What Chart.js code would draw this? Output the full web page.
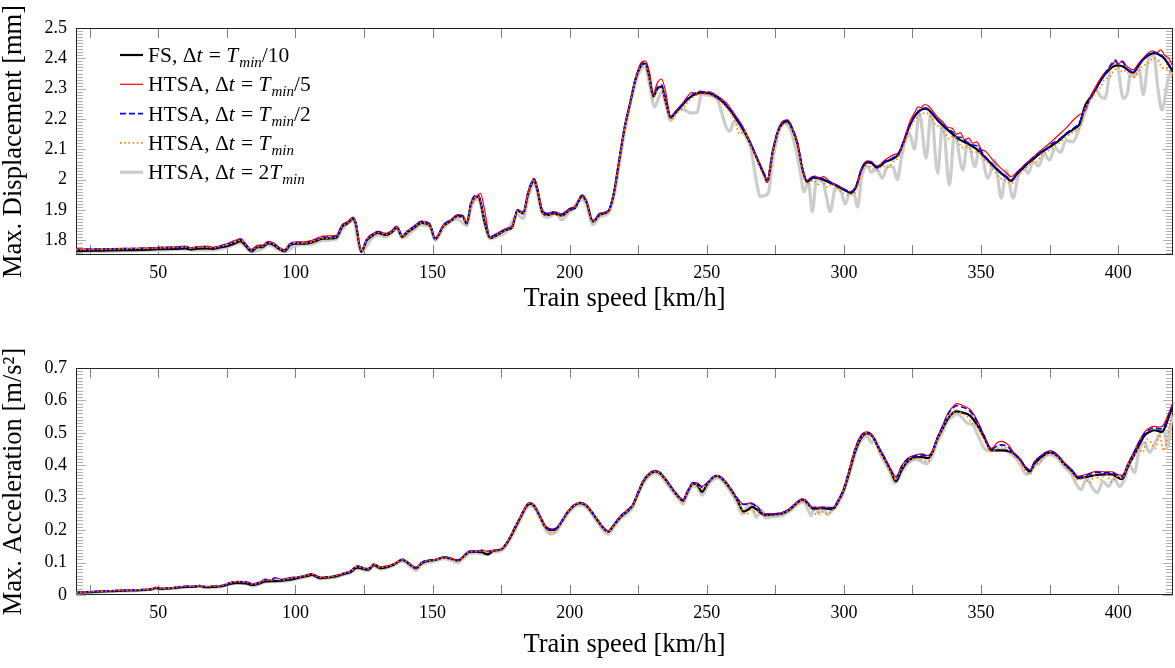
<!DOCTYPE html>
<html>
<head>
<meta charset="utf-8">
<script src="https://cdn.jsdelivr.net/npm/chart.js@4.4.0/dist/chart.umd.min.js"></script>
<style>
  body { margin: 0; background: #fff; }
  .panel { position: absolute; left: 0; width: 1175px; height: 334px; }
</style>
</head>
<body>
<div class="panel" style="top:0"><canvas id="dispChart" width="1175" height="334"></canvas></div>
<div class="panel" style="top:334px"><canvas id="accChart" width="1175" height="334"></canvas></div>
<script>
// axis ticks
const speedTickMarks = [25, 50, 75, 100, 125, 150, 175, 200, 225, 250, 275, 300, 325, 350, 375, 400];
const speedTickLabels = [50, 100, 150, 200, 250, 300, 350, 400];
const dispTicks = [1.8, 1.9, 2, 2.1, 2.2, 2.3, 2.4, 2.5];
const accTicks = [0, 0.1, 0.2, 0.3, 0.4, 0.5, 0.6, 0.7];

// ---- Max. displacement [mm] vs train speed [km/h] ----
const dispFS = [[20,1.765],[26,1.766],[32,1.767],[38,1.768],[44,1.769],[50,1.771],[56,1.772],[60,1.774],[62,1.770],[64,1.773],[68,1.774],[70,1.772],[72,1.776],[75,1.781],[78,1.791],[80,1.798],[82,1.781],[84,1.764],[86,1.777],[88,1.778],[90,1.790],[92,1.786],[94,1.772],[96,1.764],[98,1.784],[100,1.789],[103,1.789],[106,1.793],[108,1.800],[110,1.806],[113,1.807],[115,1.810],[117,1.845],[119,1.856],[121,1.871],[122,1.856],[124,1.762],[126,1.800],[128,1.815],[130,1.825],[133,1.818],[135,1.826],[137,1.842],[139,1.812],[141,1.828],[143,1.840],[146,1.858],[149,1.850],[151,1.804],[154,1.848],[157,1.866],[159,1.880],[161,1.878],[162.5,1.855],[164,1.920],[166,1.944],[167,1.940],[169,1.860],[171,1.808],[174,1.820],[177,1.835],[179,1.842],[181,1.898],[183,1.888],[185,1.960],[187,1.995],[188,1.975],[190,1.895],[192,1.884],[194,1.889],[197,1.882],[200,1.900],[202,1.907],[204.5,1.945],[206,1.930],[208.5,1.862],[211,1.885],[214,1.895],[216,1.950],[218,2.060],[220,2.170],[222,2.250],[224,2.330],[226,2.375],[227.5,2.383],[229,2.340],[230.5,2.275],[232,2.300],[233.5,2.307],[235,2.260],[236.8,2.205],[239,2.225],[241,2.245],[243,2.265],[245,2.278],[248,2.287],[251,2.284],[254,2.270],[257,2.245],[260,2.210],[263,2.170],[266,2.118],[269,2.055],[271,2.015],[272,1.993],[274,2.090],[276,2.160],[278,2.188],[279.5,2.192],[281,2.170],[283,2.120],[285,2.030],[286.5,1.994],[289,2.007],[292,2.002],[295,1.990],[298,1.977],[300,1.967],[302.5,1.957],[304.5,1.978],[306.5,2.035],[308.5,2.057],[310,2.055],[312,2.040],[315,2.058],[318,2.070],[320,2.085],[322,2.130],[324,2.178],[326,2.212],[328,2.230],[330,2.234],[332,2.220],[334,2.198],[336,2.180],[339,2.155],[342,2.133],[345,2.120],[348,2.103],[351,2.078],[354,2.050],[357,2.024],[359,2.010],[361,1.996],[363,2.018],[366,2.045],[369,2.068],[372,2.090],[375,2.108],[378,2.126],[381,2.150],[384,2.168],[386,2.185],[388,2.245],[390,2.272],[392,2.302],[394,2.332],[396,2.356],[398,2.372],[400,2.377],[402,2.372],[404,2.358],[405.5,2.353],[407,2.370],[409,2.395],[411,2.410],[413,2.417],[415,2.412],[417,2.398],[419,2.370],[420,2.355]];

const dispHtsaT5 = [[20,1.772],[26,1.772],[32,1.773],[38,1.774],[44,1.775],[50,1.777],[56,1.779],[60,1.781],[62,1.776],[64,1.779],[68,1.781],[70,1.777],[72,1.781],[75,1.790],[78,1.800],[80,1.806],[82,1.788],[84,1.770],[86,1.784],[88,1.785],[90,1.797],[92,1.792],[94,1.778],[96,1.770],[98,1.790],[100,1.795],[103,1.795],[106,1.800],[108,1.808],[110,1.814],[113,1.815],[115,1.818],[117,1.852],[119,1.862],[121,1.877],[122,1.862],[124,1.768],[126,1.806],[128,1.821],[130,1.830],[133,1.823],[135,1.832],[137,1.847],[139,1.817],[141,1.833],[143,1.846],[146,1.864],[149,1.856],[151,1.808],[154,1.853],[157,1.870],[159,1.885],[161,1.882],[162.5,1.860],[164,1.915],[166,1.945],[167.5,1.955],[169,1.900],[171,1.812],[174,1.826],[177,1.840],[179,1.848],[181,1.902],[183,1.893],[185,1.965],[187,2.005],[188,1.985],[190,1.902],[192,1.890],[194,1.895],[197,1.888],[200,1.906],[202,1.912],[204.5,1.950],[206,1.935],[208.5,1.866],[211,1.890],[214,1.898],[216,1.952],[218,2.063],[220,2.172],[222,2.252],[224,2.333],[226,2.385],[227.5,2.392],[229,2.360],[230.5,2.285],[232,2.320],[233.5,2.332],[235,2.290],[236.8,2.210],[239,2.230],[241,2.250],[243,2.275],[244.5,2.288],[246,2.283],[247.5,2.293],[249,2.288],[251,2.290],[254,2.275],[257,2.255],[260,2.218],[263,2.178],[266,2.122],[269,2.060],[271,2.020],[272,1.998],[274,2.095],[276,2.165],[278,2.195],[279.5,2.197],[281,2.176],[283,2.125],[285,2.035],[286.5,1.998],[288,2.008],[289.5,2.012],[291,2.005],[292.5,2.010],[295,1.994],[298,1.980],[300,1.970],[302.5,1.960],[304.5,1.982],[306.5,2.040],[308.5,2.062],[310,2.060],[312,2.045],[315,2.065],[318,2.082],[320,2.090],[322,2.135],[324,2.190],[326,2.225],[327,2.240],[328,2.238],[329.5,2.248],[331,2.242],[332.5,2.225],[334,2.208],[336,2.190],[338,2.172],[339.5,2.170],[341,2.150],[342.5,2.155],[344,2.132],[345.5,2.138],[347,2.120],[348.5,2.125],[350,2.100],[351.5,2.095],[354,2.068],[357,2.040],[359,2.025],[361,2.010],[363,2.025],[366,2.050],[369,2.075],[372,2.098],[375,2.120],[378,2.145],[381,2.170],[384,2.200],[386,2.215],[388,2.228],[390,2.275],[392,2.310],[394,2.340],[396,2.362],[398,2.380],[399,2.390],[400,2.382],[401.5,2.392],[403,2.375],[404,2.368],[405.5,2.362],[407,2.378],[409,2.400],[411,2.418],[412.5,2.425],[414,2.418],[415.5,2.428],[417,2.410],[418.5,2.400],[420,2.372]];

const dispHtsaT2 = [[20,1.770],[26,1.771],[32,1.772],[38,1.773],[44,1.774],[50,1.776],[56,1.777],[60,1.779],[62,1.775],[64,1.778],[68,1.779],[70,1.776],[72,1.780],[75,1.787],[78,1.796],[80,1.803],[82,1.786],[84,1.768],[86,1.781],[88,1.782],[90,1.794],[92,1.790],[94,1.776],[96,1.768],[98,1.788],[100,1.793],[103,1.793],[106,1.797],[108,1.804],[110,1.810],[113,1.811],[115,1.814],[117,1.849],[119,1.859],[121,1.874],[122,1.859],[124,1.766],[126,1.804],[128,1.819],[130,1.829],[133,1.822],[135,1.830],[137,1.846],[139,1.816],[141,1.832],[143,1.844],[146,1.862],[149,1.854],[151,1.807],[154,1.851],[157,1.869],[159,1.883],[161,1.881],[162.5,1.858],[164,1.925],[166,1.950],[167,1.945],[169,1.866],[171,1.812],[174,1.824],[177,1.838],[179,1.846],[181,1.901],[183,1.892],[185,1.965],[187,2.001],[188,1.980],[190,1.899],[192,1.888],[194,1.893],[197,1.886],[200,1.904],[202,1.910],[204.5,1.948],[206,1.933],[208.5,1.865],[211,1.888],[214,1.897],[216,1.952],[218,2.062],[220,2.172],[222,2.252],[224,2.332],[226,2.378],[227.5,2.387],[229,2.345],[230.5,2.280],[232,2.305],[233.5,2.312],[235,2.265],[236.8,2.208],[239,2.228],[241,2.248],[243,2.268],[245,2.282],[248,2.290],[251,2.287],[254,2.273],[257,2.248],[260,2.213],[263,2.172],[266,2.120],[269,2.057],[271,2.017],[272,1.996],[274,2.093],[276,2.163],[278,2.191],[279.5,2.195],[281,2.173],[283,2.123],[285,2.033],[286.5,1.997],[289,2.010],[292,2.004],[295,1.992],[298,1.979],[300,1.969],[302.5,1.960],[304.5,1.981],[306.5,2.038],[308.5,2.060],[310,2.058],[312,2.043],[315,2.061],[318,2.073],[320,2.088],[322,2.132],[324,2.180],[326,2.214],[328,2.232],[330,2.236],[332,2.222],[334,2.200],[336,2.183],[338,2.165],[339.5,2.158],[341,2.140],[342.5,2.140],[345,2.123],[347,2.114],[348.5,2.112],[351,2.082],[354,2.053],[357,2.027],[359,2.012],[361,1.999],[363,2.021],[366,2.048],[369,2.071],[372,2.093],[374,2.102],[375,2.114],[378,2.130],[381,2.153],[384,2.172],[386,2.190],[387.5,2.230],[390,2.268],[392,2.300],[394,2.334],[396,2.362],[398,2.385],[399,2.394],[400,2.382],[401.5,2.389],[403,2.368],[404,2.360],[405.5,2.355],[407,2.372],[409,2.397],[411,2.412],[413,2.420],[415,2.415],[417,2.400],[419,2.372],[420,2.358]];

const dispHtsaT1 = [[20,1.769],[26,1.770],[32,1.771],[38,1.772],[44,1.773],[50,1.775],[56,1.776],[60,1.778],[62,1.774],[64,1.777],[68,1.778],[70,1.775],[72,1.779],[75,1.785],[78,1.794],[80,1.801],[82,1.784],[84,1.766],[86,1.779],[88,1.780],[90,1.792],[92,1.788],[94,1.774],[96,1.766],[98,1.786],[100,1.791],[103,1.791],[106,1.795],[108,1.802],[110,1.807],[113,1.808],[115,1.811],[117,1.846],[119,1.856],[121,1.871],[122,1.857],[124,1.764],[126,1.802],[128,1.816],[130,1.826],[133,1.820],[135,1.827],[137,1.843],[139,1.813],[141,1.829],[143,1.841],[146,1.858],[149,1.850],[151,1.803],[154,1.847],[157,1.864],[159,1.878],[161,1.876],[162.5,1.852],[164,1.918],[166,1.943],[167,1.940],[169,1.860],[171,1.808],[174,1.820],[177,1.834],[179,1.842],[181,1.897],[183,1.887],[185,1.960],[187,1.995],[188,1.975],[190,1.893],[192,1.882],[194,1.888],[197,1.880],[200,1.899],[202,1.905],[204.5,1.943],[206,1.928],[208.5,1.860],[211,1.883],[214,1.893],[216,1.948],[218,2.058],[220,2.168],[222,2.248],[224,2.328],[226,2.372],[227.5,2.380],[229,2.335],[230.5,2.268],[232,2.295],[233.5,2.302],[235,2.255],[236.8,2.198],[239,2.220],[241,2.232],[243,2.255],[245,2.272],[248,2.282],[251,2.280],[254,2.265],[257,2.238],[260,2.200],[262,2.150],[263.5,2.160],[266,2.112],[269,2.048],[271,2.005],[272,1.988],[274,2.085],[276,2.155],[278,2.183],[279.5,2.186],[281,2.165],[283,2.112],[285,2.020],[286.5,1.985],[289,1.998],[290.5,1.985],[292,1.995],[294,1.975],[295.5,1.985],[298,1.968],[300,1.955],[302.5,1.950],[304.5,1.965],[306.5,2.025],[308.5,2.048],[310,2.040],[312,2.030],[314,2.045],[316,2.040],[318,2.060],[320,2.075],[322,2.120],[324,2.168],[326,2.200],[328,2.215],[330,2.220],[332,2.205],[333.5,2.180],[335,2.175],[337,2.150],[338.5,2.135],[340,2.145],[342,2.120],[343.5,2.105],[345,2.110],[347,2.090],[349,2.092],[351,2.068],[352.5,2.055],[354,2.040],[357,2.005],[359,1.998],[361,1.988],[363,2.010],[366,2.035],[369,2.060],[370.5,2.060],[372,2.080],[375,2.098],[378,2.118],[381,2.140],[384,2.160],[386,2.170],[388,2.235],[390,2.262],[392,2.292],[393.5,2.305],[395,2.330],[397,2.340],[398.5,2.360],[400,2.370],[401.5,2.355],[403,2.360],[404.5,2.340],[406,2.338],[407.5,2.360],[409,2.375],[411,2.385],[413,2.400],[414.5,2.395],[416,2.370],[418,2.365],[420,2.340]];

const dispHtsa2T = [[20,1.763],[30,1.764],[40,1.766],[50,1.768],[60,1.771],[64,1.769],[70,1.769],[75,1.777],[80,1.792],[84,1.762],[88,1.773],[90,1.785],[96,1.762],[100,1.783],[106,1.788],[110,1.800],[115,1.804],[117,1.835],[121,1.864],[124,1.764],[128,1.808],[130,1.818],[133,1.812],[137,1.836],[139,1.808],[143,1.833],[146,1.851],[149,1.843],[151,1.800],[154,1.841],[159,1.871],[162.5,1.849],[164,1.905],[166,1.935],[167,1.932],[169,1.856],[171,1.805],[174,1.815],[177,1.828],[179,1.860],[181,1.885],[183,1.872],[185,1.945],[187,1.985],[188,1.968],[190,1.888],[192,1.876],[195,1.890],[197,1.868],[200,1.895],[204.5,1.935],[206,1.922],[208.5,1.852],[211,1.878],[214,1.888],[216,1.940],[220,2.155],[224,2.320],[226,2.365],[227.5,2.372],[229,2.320],[231,2.240],[233.5,2.290],[235,2.250],[236.8,2.195],[240,2.235],[242,2.230],[244,2.220],[246.5,2.222],[248,2.280],[251,2.278],[254,2.262],[255.5,2.220],[257,2.175],[258.5,2.160],[260,2.195],[263,2.160],[266,2.105],[268,2.000],[269.5,1.944],[271,1.948],[272.5,1.958],[274,2.060],[276,2.150],[278,2.188],[280,2.175],[282,2.120],[284,2.030],[285.5,1.960],[287,1.995],[288.5,1.895],[290,2.000],[292,2.000],[293.5,1.950],[295,1.895],[297,1.975],[299,1.960],[300.5,1.920],[302,1.955],[303.5,1.960],[305,1.910],[306.5,2.010],[308.5,2.045],[310,2.025],[312,2.035],[314,2.005],[316,2.045],[318,2.040],[319.5,2.000],[321,2.075],[322.5,2.130],[324,2.150],[325.7,2.100],[327.5,2.220],[330,2.071],[331.8,2.225],[334.2,2.021],[336,2.192],[338.5,1.983],[340.3,2.153],[343.4,2.032],[345.2,2.131],[347.7,2.043],[349.5,2.109],[352.5,2.005],[355,2.065],[357.4,1.939],[359.2,2.032],[361.7,1.939],[363.5,2.010],[365.5,2.040],[367.2,2.021],[369,2.060],[371,2.045],[373,2.085],[375,2.065],[377,2.105],[379,2.090],[381,2.130],[383.5,2.125],[386,2.175],[387.5,2.210],[389.8,2.270],[392,2.295],[393.5,2.275],[395.2,2.268],[397.7,2.384],[399.5,2.380],[401.9,2.268],[403.5,2.290],[404.4,2.350],[406,2.340],[407.5,2.370],[409.2,2.280],[411.1,2.400],[413,2.410],[414.5,2.300],[416,2.230],[418,2.320],[419.6,2.360],[420,2.350]];

// ---- Max. acceleration [m/s2] vs train speed [km/h] ----
const accFS = [[20,0.007],[25,0.009],[30,0.011],[35,0.013],[40,0.014],[45,0.016],[48,0.018],[49,0.022],[51,0.019],[55,0.021],[60,0.025],[63,0.025],[65,0.028],[67,0.024],[70,0.025],[73,0.027],[76,0.034],[79,0.037],[82,0.036],[84.5,0.031],[87,0.036],[89,0.042],[92,0.043],[95,0.044],[98,0.047],[101,0.053],[104,0.058],[106,0.062],[109,0.052],[112,0.054],[115,0.058],[118,0.066],[120,0.070],[122.5,0.084],[125,0.080],[126.5,0.078],[128.6,0.092],[131,0.083],[133,0.085],[136,0.094],[139,0.108],[142,0.092],[144,0.082],[146,0.098],[148.3,0.105],[151,0.108],[154.4,0.116],[157,0.111],[159.3,0.106],[161,0.116],[163.5,0.133],[166,0.134],[168,0.132],[170.2,0.125],[172,0.136],[175,0.140],[178,0.172],[180,0.205],[182,0.238],[184,0.270],[185.5,0.282],[187,0.275],[189,0.245],[191,0.212],[193,0.200],[195,0.203],[197,0.225],[199,0.252],[201.5,0.275],[203.8,0.283],[206,0.276],[208,0.256],[210.5,0.226],[212.5,0.204],[214,0.195],[216,0.214],[218.5,0.240],[221,0.258],[223,0.276],[225,0.315],[227,0.352],[229,0.372],[231.2,0.381],[233,0.375],[235.5,0.350],[238,0.320],[240,0.300],[241.3,0.290],[243,0.318],[245,0.343],[246.5,0.340],[248.3,0.318],[250,0.340],[252,0.360],[253.8,0.367],[256,0.355],[259,0.322],[261,0.295],[263.5,0.257],[265,0.263],[266.6,0.272],[268.5,0.262],[271,0.246],[274,0.248],[277,0.250],[280,0.262],[283,0.284],[285,0.293],[287,0.280],[288.6,0.266],[292,0.268],[295.9,0.265],[298,0.290],[300,0.325],[302,0.380],[304,0.440],[306,0.480],[308.5,0.498],[310.5,0.488],[312.5,0.455],[314.5,0.425],[317,0.385],[319,0.350],[321,0.385],[323.3,0.412],[326.4,0.425],[328.5,0.425],[330.6,0.422],[332,0.435],[334,0.480],[336.1,0.515],[338,0.545],[340,0.563],[341,0.566],[343,0.563],[346,0.553],[348.5,0.525],[351,0.488],[353.8,0.446],[357,0.446],[360.5,0.443],[364.2,0.418],[366,0.395],[367.8,0.381],[369.5,0.405],[371.5,0.422],[373.5,0.435],[375.2,0.439],[378,0.428],[380,0.407],[383,0.383],[385.5,0.360],[389,0.365],[392.2,0.370],[395,0.372],[397.7,0.372],[399.5,0.364],[401.4,0.357],[403.5,0.395],[405.6,0.427],[408,0.468],[409.9,0.494],[412,0.505],[413,0.508],[414.5,0.506],[416,0.503],[418.5,0.550],[420,0.585]];

const accHtsaT5 = [[20,0.008],[25,0.010],[30,0.012],[35,0.014],[40,0.015],[45,0.017],[48,0.019],[49,0.024],[51,0.020],[55,0.022],[60,0.027],[63,0.026],[65,0.030],[67,0.026],[70,0.027],[73,0.029],[76,0.038],[79,0.042],[82,0.041],[84.5,0.035],[87,0.040],[89,0.049],[91,0.046],[92.5,0.053],[95,0.048],[98,0.054],[101,0.056],[104,0.062],[106,0.066],[109,0.055],[112,0.057],[115,0.061],[118,0.069],[120,0.074],[122.5,0.090],[125,0.084],[126.5,0.082],[128.6,0.096],[131,0.087],[133,0.089],[136,0.097],[139,0.111],[142,0.095],[144,0.085],[146,0.101],[148.3,0.108],[151,0.110],[154.4,0.118],[157,0.113],[159.3,0.108],[161,0.118],[163.5,0.136],[166,0.136],[168,0.138],[170.2,0.135],[172,0.138],[175,0.142],[178,0.176],[180,0.210],[182,0.242],[184,0.274],[185.5,0.286],[187,0.278],[189,0.248],[191,0.215],[193,0.204],[195,0.206],[197,0.228],[199,0.255],[201.5,0.278],[203.8,0.286],[206,0.279],[208,0.259],[210.5,0.229],[212.5,0.207],[214,0.198],[216,0.217],[218.5,0.244],[221,0.262],[223,0.280],[225,0.320],[227,0.356],[229,0.376],[231.2,0.384],[233,0.378],[235.5,0.353],[238,0.323],[240,0.303],[241.3,0.294],[243,0.322],[245,0.347],[246.5,0.346],[248.3,0.335],[250,0.345],[252,0.363],[253.8,0.370],[256,0.358],[259,0.326],[261,0.300],[263.5,0.280],[266,0.284],[268.5,0.272],[271,0.250],[274,0.251],[277,0.253],[280,0.266],[283,0.288],[285,0.297],[287,0.284],[288.6,0.270],[292,0.271],[295.9,0.270],[298,0.295],[300,0.332],[302,0.390],[304,0.450],[306,0.490],[308.5,0.503],[310.5,0.492],[312.5,0.460],[314.5,0.430],[317,0.390],[319,0.365],[321,0.398],[323.3,0.422],[326.4,0.432],[328.5,0.435],[330.6,0.430],[332,0.440],[334,0.485],[336.1,0.525],[338,0.562],[340,0.583],[341,0.590],[343,0.586],[346,0.572],[348.5,0.540],[351,0.495],[353.8,0.452],[356,0.470],[357.5,0.474],[360,0.462],[362,0.438],[364.2,0.420],[366,0.398],[367.8,0.386],[369.5,0.412],[371.5,0.428],[373.5,0.440],[375.2,0.445],[378,0.432],[380,0.412],[383,0.388],[385.5,0.366],[389,0.374],[392.2,0.381],[395,0.380],[397.7,0.380],[399.5,0.373],[401.4,0.369],[403.5,0.405],[405.6,0.440],[408,0.480],[409.9,0.505],[412,0.518],[413,0.520],[414.5,0.518],[416,0.520],[418.5,0.562],[420,0.592]];

const accHtsaT2 = [[20,0.008],[25,0.010],[30,0.012],[35,0.014],[40,0.015],[45,0.017],[48,0.019],[49,0.023],[51,0.020],[55,0.022],[60,0.027],[63,0.026],[65,0.029],[67,0.026],[70,0.027],[73,0.029],[76,0.037],[79,0.041],[82,0.040],[84.5,0.034],[87,0.039],[89,0.048],[91,0.046],[92.5,0.052],[95,0.047],[98,0.053],[101,0.055],[104,0.061],[106,0.065],[109,0.055],[112,0.056],[115,0.060],[118,0.068],[120,0.073],[122.5,0.089],[125,0.083],[126.5,0.081],[128.6,0.095],[131,0.086],[133,0.088],[136,0.096],[139,0.110],[142,0.094],[144,0.084],[146,0.100],[148.3,0.107],[151,0.109],[154.4,0.117],[157,0.112],[159.3,0.107],[161,0.117],[163.5,0.135],[166,0.135],[168,0.138],[170.2,0.134],[172,0.137],[175,0.141],[178,0.175],[180,0.209],[182,0.241],[184,0.273],[185.5,0.285],[187,0.277],[189,0.247],[191,0.214],[193,0.203],[195,0.205],[197,0.227],[199,0.254],[201.5,0.277],[203.8,0.285],[206,0.278],[208,0.258],[210.5,0.228],[212.5,0.206],[214,0.197],[216,0.216],[218.5,0.243],[221,0.261],[223,0.279],[225,0.319],[227,0.355],[229,0.375],[231.2,0.383],[233,0.377],[235.5,0.352],[238,0.322],[240,0.302],[241.3,0.293],[243,0.321],[245,0.346],[246.5,0.345],[248.3,0.332],[250,0.344],[252,0.362],[253.8,0.369],[256,0.357],[259,0.325],[261,0.299],[263.5,0.279],[266,0.282],[268.5,0.270],[271,0.249],[274,0.250],[277,0.252],[280,0.265],[283,0.287],[285,0.296],[287,0.283],[288.6,0.269],[292,0.270],[295.9,0.268],[298,0.293],[300,0.330],[302,0.387],[304,0.447],[306,0.487],[308.5,0.501],[310.5,0.490],[312.5,0.458],[314.5,0.428],[317,0.388],[319,0.362],[321,0.395],[323.3,0.420],[326.4,0.430],[328.5,0.432],[330.6,0.428],[332,0.438],[334,0.483],[336.1,0.522],[338,0.558],[340,0.578],[341,0.584],[343,0.580],[346,0.566],[348.5,0.536],[351,0.493],[353.8,0.450],[356,0.460],[357.5,0.463],[360,0.455],[362,0.435],[364.2,0.419],[366,0.397],[367.8,0.384],[369.5,0.410],[371.5,0.426],[373.5,0.438],[375.2,0.443],[378,0.430],[380,0.410],[383,0.386],[385.5,0.364],[389,0.371],[392.2,0.378],[395,0.377],[397.7,0.378],[399.5,0.370],[401.4,0.365],[403.5,0.402],[405.6,0.436],[408,0.476],[409.9,0.500],[412,0.513],[413,0.515],[414.5,0.513],[416,0.512],[418.5,0.555],[420,0.588]];

const accHtsaT1 = [[20,0.008],[25,0.010],[30,0.012],[35,0.014],[40,0.015],[45,0.017],[48,0.019],[49,0.023],[51,0.020],[55,0.022],[60,0.027],[63,0.026],[65,0.029],[67,0.026],[70,0.027],[73,0.029],[76,0.037],[79,0.041],[82,0.040],[84.5,0.033],[87,0.038],[89,0.046],[91,0.045],[92.5,0.050],[95,0.046],[98,0.052],[101,0.055],[104,0.060],[106,0.064],[109,0.054],[112,0.056],[115,0.060],[118,0.068],[120,0.072],[122.5,0.087],[125,0.082],[126.5,0.080],[128.6,0.094],[131,0.085],[133,0.087],[136,0.095],[139,0.108],[142,0.092],[144,0.080],[146,0.098],[148.3,0.105],[151,0.108],[154.4,0.115],[157,0.110],[159.3,0.104],[161,0.115],[163.5,0.133],[166,0.134],[168,0.136],[170.2,0.132],[172,0.136],[175,0.140],[178,0.173],[180,0.207],[182,0.239],[184,0.271],[185.5,0.283],[187,0.275],[189,0.244],[191,0.210],[193,0.192],[195,0.197],[197,0.224],[199,0.252],[201.5,0.275],[203.8,0.283],[206,0.276],[208,0.256],[210.5,0.226],[212.5,0.203],[214,0.194],[216,0.213],[218.5,0.240],[221,0.258],[223,0.276],[225,0.316],[227,0.352],[229,0.372],[231.2,0.381],[233,0.375],[235.5,0.349],[238,0.318],[240,0.298],[241.3,0.286],[243,0.318],[245,0.342],[246.5,0.340],[248.3,0.325],[250,0.340],[252,0.360],[253.8,0.367],[256,0.354],[259,0.320],[261,0.292],[263,0.262],[264.5,0.248],[266,0.262],[268,0.255],[269.5,0.262],[271,0.244],[274,0.245],[277,0.249],[280,0.262],[283,0.284],[285,0.292],[287,0.277],[288.6,0.262],[290,0.248],[291.5,0.266],[293,0.250],[295.9,0.262],[298,0.288],[300,0.325],[302,0.382],[304,0.442],[306,0.482],[308.5,0.497],[310.5,0.486],[312.5,0.452],[314.5,0.420],[317,0.380],[319,0.356],[321,0.390],[323.3,0.412],[326.4,0.422],[328.5,0.418],[330.6,0.412],[332,0.432],[334,0.478],[336.1,0.515],[338,0.548],[340,0.562],[341,0.570],[343,0.560],[345,0.550],[346.5,0.532],[348.5,0.520],[351,0.480],[353.8,0.442],[356,0.452],[357.5,0.458],[360,0.448],[362,0.430],[364.2,0.412],[366,0.385],[367.8,0.372],[369.5,0.400],[371.5,0.410],[373.5,0.430],[375.2,0.437],[378,0.425],[380,0.404],[383,0.378],[385.5,0.354],[387.5,0.362],[389.5,0.345],[391.5,0.370],[393.5,0.355],[395.5,0.372],[397.7,0.348],[399.5,0.365],[401.4,0.360],[403.5,0.398],[405.6,0.425],[407.5,0.450],[409,0.440],[410.5,0.480],[412,0.470],[413.5,0.452],[415,0.495],[416.5,0.445],[418.5,0.510],[420,0.565]];

const accHtsa2T = [[20,0.006],[25,0.008],[30,0.010],[35,0.012],[40,0.013],[45,0.015],[49,0.020],[51,0.018],[55,0.020],[60,0.024],[65,0.027],[67,0.023],[70,0.024],[73,0.026],[76,0.033],[79,0.036],[82,0.035],[84.5,0.028],[87,0.034],[89,0.040],[92,0.041],[95,0.042],[98,0.045],[101,0.050],[104,0.056],[106,0.060],[109,0.050],[112,0.052],[115,0.056],[118,0.064],[120,0.068],[122.5,0.082],[125,0.077],[126.5,0.075],[128.6,0.089],[131,0.080],[133,0.083],[136,0.092],[139,0.104],[142,0.087],[144,0.076],[146,0.094],[148.3,0.100],[151,0.105],[154.4,0.112],[157,0.106],[159.3,0.100],[161,0.112],[163.5,0.128],[166,0.130],[168,0.127],[170.2,0.125],[172,0.132],[175,0.136],[178,0.168],[180,0.200],[182,0.232],[184,0.264],[185.5,0.276],[187,0.270],[189,0.240],[191,0.205],[193,0.188],[195,0.195],[197,0.220],[199,0.246],[201.5,0.270],[203.8,0.278],[206,0.271],[208,0.251],[210.5,0.220],[212.5,0.196],[214,0.188],[216,0.208],[218.5,0.234],[221,0.252],[223,0.270],[225,0.310],[227,0.346],[229,0.366],[231.2,0.375],[233,0.369],[235.5,0.343],[238,0.314],[240,0.293],[241.3,0.280],[243,0.312],[245,0.336],[246.5,0.334],[248.3,0.308],[250,0.332],[252,0.354],[253.8,0.361],[256,0.348],[259,0.315],[261,0.285],[263,0.250],[264.5,0.270],[266,0.282],[268,0.240],[270,0.262],[271.5,0.238],[274,0.242],[277,0.244],[280,0.256],[283,0.278],[285,0.287],[286.5,0.272],[288,0.245],[289.5,0.272],[291,0.250],[292.5,0.270],[294,0.248],[295.9,0.262],[298,0.284],[300,0.318],[302,0.372],[304,0.432],[306,0.472],[308.5,0.490],[310,0.470],[311.5,0.478],[313,0.440],[314.5,0.415],[317,0.375],[318.5,0.345],[321,0.378],[323.3,0.405],[326.4,0.418],[328.5,0.410],[330,0.405],[332,0.425],[334,0.470],[336.1,0.505],[338,0.540],[340,0.552],[341,0.560],[343,0.548],[345,0.530],[347,0.525],[349,0.490],[351,0.455],[352.5,0.445],[354,0.448],[356,0.445],[358,0.450],[360,0.440],[362,0.428],[364.2,0.405],[366.5,0.372],[368,0.378],[369.5,0.398],[371,0.405],[373.5,0.428],[375.2,0.433],[378,0.420],[380,0.398],[383,0.372],[384.5,0.345],[386.5,0.325],[388.5,0.360],[390.5,0.332],[392.3,0.315],[394.5,0.350],[396.5,0.335],[398.5,0.360],[400.5,0.335],[402.5,0.360],[404,0.400],[406,0.378],[407.5,0.440],[409.5,0.470],[411.5,0.440],[413.5,0.470],[415,0.495],[416.6,0.510],[418,0.455],[419.3,0.530],[420,0.550]];

const serifFont = '"Liberation Serif", "DejaVu Serif", serif';

// line styles, in legend order
const seriesStyles = [
    { color: '#000000', width: 2.2, dash: [] },          // FS, dt = Tmin/10
    { color: '#ff0000', width: 1.2, dash: [] },          // HTSA, dt = Tmin/5
    { color: '#0000ff', width: 1.6, dash: [6, 3] },      // HTSA, dt = Tmin/2
    { color: '#ff8000', width: 1.6, dash: [1.6, 2.6] },  // HTSA, dt = Tmin
    { color: '#cccccc', width: 3.2, dash: [] }           // HTSA, dt = 2Tmin
];
// legend text pieces: n = upright, i = italic, s = italic subscript
const legendLabels = [
    [['FS, Δ', 'n'], ['t', 'i'], [' = ', 'n'], ['T', 'i'], ['min', 's'], ['/10', 'n']],
    [['HTSA, Δ', 'n'], ['t', 'i'], [' = ', 'n'], ['T', 'i'], ['min', 's'], ['/5', 'n']],
    [['HTSA, Δ', 'n'], ['t', 'i'], [' = ', 'n'], ['T', 'i'], ['min', 's'], ['/2', 'n']],
    [['HTSA, Δ', 'n'], ['t', 'i'], [' = ', 'n'], ['T', 'i'], ['min', 's']],
    [['HTSA, Δ', 'n'], ['t', 'i'], [' = 2', 'n'], ['T', 'i'], ['min', 's']]
];

const toPoints = arr => arr.map(([x, y]) => ({ x, y }));

function makeDatasets(series) {
    // draw order: orange on top, grey at the back
    return series.map((data, i) => ({
        data: toPoints(data),
        borderColor: seriesStyles[i].color,
        borderWidth: seriesStyles[i].width,
        borderDash: seriesStyles[i].dash,
        pointRadius: 0,
        fill: false,
        cubicInterpolationMode: 'monotone',
        order: 5 - i + (i === 4 ? 10 : 0)
    }));
}

// inside ticks + frame, pgfplots style
const axisFrame = {
    id: 'axisFrame',
    beforeDatasetsDraw(chart) {
        const { ctx, chartArea: a, scales: { x, y } } = chart;
        ctx.save();
        ctx.lineWidth = 1;
        ctx.strokeStyle = '#b0b0b0';
        const first = Math.ceil(y.min * 100 - 1e-6), last = Math.floor(y.max * 100 + 1e-6);
        for (let k = first; k <= last; k++) {
            const py = Math.round(y.getPixelForValue(k / 100)) + 0.5;
            const len = k % 10 === 0 ? 10 : 7;
            ctx.beginPath();
            ctx.moveTo(a.left, py); ctx.lineTo(a.left + len, py);
            ctx.moveTo(a.right, py); ctx.lineTo(a.right - len, py);
            ctx.stroke();
        }
        ctx.strokeStyle = '#808080';
        speedTickMarks.forEach(v => {
            const px = Math.round(x.getPixelForValue(v)) + 0.5;
            ctx.beginPath();
            ctx.moveTo(px, a.top); ctx.lineTo(px, a.top + 10);
            ctx.moveTo(px, a.bottom); ctx.lineTo(px, a.bottom - 10);
            ctx.stroke();
        });
        ctx.strokeStyle = '#222';
        ctx.strokeRect(a.left + 0.5, a.top + 0.5, a.right - a.left - 1, a.bottom - a.top - 1);
        ctx.restore();
    }
};

const mathLegend = {
    id: 'mathLegend',
    afterDraw(chart, args, opts) {
        if (!opts.show) return;
        const { ctx } = chart;
        ctx.save();
        legendLabels.forEach((parts, i) => {
            const rowY = 55 + i * 29.3;
            const st = seriesStyles[i];
            ctx.beginPath();
            ctx.strokeStyle = st.color;
            ctx.lineWidth = st.width;
            ctx.setLineDash(st.dash);
            ctx.moveTo(120, rowY);
            ctx.lineTo(143, rowY);
            ctx.stroke();
            ctx.setLineDash([]);
            ctx.fillStyle = '#000';
            ctx.textBaseline = 'alphabetic';
            let tx = 148;
            const base = rowY + 7;
            parts.forEach(([text, kind]) => {
                if (kind === 's') ctx.font = 'italic 15px ' + serifFont;
                else if (kind === 'i') ctx.font = 'italic 21.5px ' + serifFont;
                else ctx.font = '21.5px ' + serifFont;
                ctx.fillText(text, tx, kind === 's' ? base + 5 : base);
                tx += ctx.measureText(text).width + (kind === 'i' ? 1 : 0);
            });
        });
        ctx.restore();
    }
};

function buildChart(canvasId, series, yMin, yMax, yTicks, yTitle, padTop, xAxisHeight, xTitlePad, showLegend) {
    const ctx = document.getElementById(canvasId).getContext('2d');
    return new Chart(ctx, {
        type: 'line',
        data: { datasets: makeDatasets(series) },
        options: {
            responsive: false,
            animation: false,
            devicePixelRatio: 1,
            layout: { padding: { top: padTop, right: 2, left: 0, bottom: 0 } },
            plugins: {
                legend: { display: false },
                tooltip: { enabled: false },
                mathLegend: { show: showLegend }
            },
            scales: {
                x: {
                    type: 'linear',
                    min: 20,
                    max: 420,
                    grid: { display: false, drawTicks: false },
                    border: { display: false },
                    afterBuildTicks: s => { s.ticks = speedTickLabels.map(v => ({ value: v })); },
                    afterFit: s => { s.height = xAxisHeight; },
                    ticks: {
                        autoSkip: false,
                        maxRotation: 0,
                        padding: 7,
                        color: '#000',
                        font: { family: serifFont, size: 18 },
                        callback: v => String(v)
                    },
                    title: {
                        display: true,
                        text: 'Train speed [km/h]',
                        color: '#000',
                        font: { family: serifFont, size: 26.5, lineHeight: 1 },
                        padding: { top: 0, bottom: xTitlePad }
                    }
                },
                y: {
                    min: yMin,
                    max: yMax,
                    grid: { display: false, drawTicks: false },
                    border: { display: false },
                    afterBuildTicks: s => { s.ticks = yTicks.map(v => ({ value: v })); },
                    afterFit: s => { s.width = 76; },
                    ticks: {
                        padding: 9,
                        color: '#000',
                        font: { family: serifFont, size: 18 },
                        callback: v => String(+v.toFixed(2))
                    },
                    title: {
                        display: true,
                        text: yTitle,
                        color: '#000',
                        font: { family: serifFont, size: 26.5, lineHeight: 1 },
                        padding: { top: 1, bottom: 0 }
                    }
                }
            }
        },
        plugins: [axisFrame, mathLegend]
    });
}

buildChart('dispChart', [dispFS, dispHtsaT5, dispHtsaT2, dispHtsaT1, dispHtsa2T],
    1.752, 2.5, dispTicks, 'Max. Displacement [mm]', 28, 79, 22, true);
buildChart('accChart', [accFS, accHtsaT5, accHtsaT2, accHtsaT1, accHtsa2T],
    0, 0.7, accTicks, 'Max. Acceleration [m/s²]', 34, 73, 10, false);
</script>
</body>
</html>
